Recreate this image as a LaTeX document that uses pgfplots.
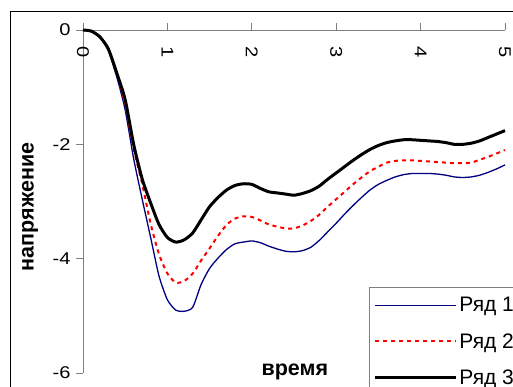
\documentclass[border=0pt]{standalone}
\usepackage{pgfplots}
\pgfplotsset{compat=1.18}
\usepackage{pgfplotstable}
\usepackage{fontspec}
\setmainfont{Liberation Sans}
\newfontfamily\tickfont[FakeStretch=1.18]{Liberation Sans}

\definecolor{seriesblue}{HTML}{000080}
\definecolor{axisgray}{HTML}{808080}

% time (s) vs voltage for the three series
\pgfplotstableread{
t v
0.0 0
0.1 -0.03
0.2 -0.13
0.3 -0.36
0.4 -0.82
0.5 -1.40
0.6 -2.25
0.7 -2.95
0.8 -3.62
0.9 -4.30
1.0 -4.72
1.1 -4.90
1.2 -4.92
1.3 -4.85
1.4 -4.45
1.5 -4.17
1.6 -3.99
1.7 -3.84
1.8 -3.74
1.9 -3.71
2.0 -3.69
2.1 -3.72
2.2 -3.78
2.3 -3.83
2.4 -3.87
2.5 -3.88
2.6 -3.86
2.7 -3.80
2.8 -3.68
2.9 -3.53
3.0 -3.38
3.1 -3.22
3.2 -3.07
3.3 -2.93
3.4 -2.80
3.5 -2.70
3.6 -2.63
3.7 -2.57
3.8 -2.53
3.9 -2.51
4.0 -2.51
4.1 -2.51
4.2 -2.52
4.3 -2.54
4.4 -2.57
4.5 -2.58
4.6 -2.57
4.7 -2.54
4.8 -2.49
4.9 -2.43
5.0 -2.36
}\seriesone

\pgfplotstableread{
t v
0.0 0
0.1 -0.03
0.2 -0.12
0.3 -0.34
0.4 -0.77
0.5 -1.30
0.6 -2.08
0.7 -2.68
0.8 -3.38
0.9 -3.92
1.0 -4.26
1.1 -4.42
1.2 -4.39
1.3 -4.26
1.4 -4.03
1.5 -3.82
1.6 -3.60
1.7 -3.41
1.8 -3.30
1.9 -3.26
2.0 -3.27
2.1 -3.33
2.2 -3.40
2.3 -3.44
2.4 -3.47
2.5 -3.47
2.6 -3.42
2.7 -3.34
2.8 -3.23
2.9 -3.09
3.0 -2.96
3.1 -2.83
3.2 -2.70
3.3 -2.58
3.4 -2.47
3.5 -2.39
3.6 -2.32
3.7 -2.29
3.8 -2.28
3.9 -2.28
4.0 -2.29
4.1 -2.30
4.2 -2.31
4.3 -2.32
4.4 -2.33
4.5 -2.33
4.6 -2.32
4.7 -2.27
4.8 -2.22
4.9 -2.16
5.0 -2.10
}\seriestwo

\pgfplotstableread{
t v
0.0 0
0.1 -0.02
0.2 -0.12
0.3 -0.33
0.4 -0.75
0.5 -1.22
0.6 -2.00
0.7 -2.60
0.8 -3.02
0.9 -3.40
1.0 -3.63
1.1 -3.71
1.2 -3.67
1.3 -3.55
1.4 -3.32
1.5 -3.09
1.6 -2.93
1.7 -2.80
1.8 -2.72
1.9 -2.69
2.0 -2.70
2.1 -2.77
2.2 -2.83
2.3 -2.85
2.4 -2.87
2.5 -2.89
2.6 -2.86
2.7 -2.81
2.8 -2.73
2.9 -2.61
3.0 -2.50
3.1 -2.39
3.2 -2.28
3.3 -2.18
3.4 -2.09
3.5 -2.02
3.6 -1.97
3.7 -1.94
3.8 -1.92
3.9 -1.92
4.0 -1.93
4.1 -1.94
4.2 -1.95
4.3 -1.97
4.4 -2.00
4.5 -2.00
4.6 -1.98
4.7 -1.94
4.8 -1.88
4.9 -1.82
5.0 -1.76
}\seriesthree

\begin{document}
\begin{tikzpicture}[x=1pt,y=1pt]
\useasboundingbox (0,0) rectangle (513,387);
% chart area frame
\draw[black, line width=0.9pt] (10,-30) -- (10,376) -- (600,376);
\begin{axis}[
  at={(83pt,14pt)}, anchor=south west,
  scale only axis, width=422pt, height=343pt,
  xmin=0, xmax=5, ymin=-6, ymax=0,
  axis x line=top, axis y line=left,
  axis line style={-, draw=axisgray, line width=0.9pt},
  tick align=outside, major tick length=7pt,
  tick style={draw=axisgray, line width=0.9pt},
  xtick={0,1,2,3,4,5}, xticklabels={0,1,2,3,4,5},
  ytick={-6,-4,-2,0}, yticklabels={-6,-4,-2,0},
  tick label style={font=\tickfont\fontsize{17}{20}\selectfont},
  xticklabel style={yshift=-29pt, rotate=-90, anchor=center},
  yticklabel style={xshift=-2pt},
  xlabel={время}, ylabel={напряжение},
  label style={font=\fontsize{21.5}{25}\selectfont\bfseries},
  xlabel style={at={(axis description cs:0.502,0.003)}, anchor=center},
  ylabel style={at={(axis description cs:-0.1256,0.484)}, anchor=center},
  legend style={at={(axis description cs:0.6777,0.2507)}, anchor=north west,
    draw=axisgray, line width=0.9pt, font=\fontsize{21}{25}\selectfont,
    row sep=16pt, inner xsep=4pt, inner ysep=8pt},
  legend cell align=left,
  legend image code/.code={\draw[#1] (0pt,0pt) -- (81pt,0pt);},
  clip=false,
]
\addplot[seriesblue, line width=1.3pt, smooth, tension=0.4] table {\seriesone};
\addlegendentry{Ряд 1}
\addplot[red, line width=2pt, dash pattern=on 4pt off 4pt, smooth, tension=0.4] table {\seriestwo};
\addlegendentry{Ряд 2}
\addplot[black, line width=3pt, smooth, tension=0.4] table {\seriesthree};
\addlegendentry{Ряд 3}
\end{axis}
\end{tikzpicture}
\end{document}
